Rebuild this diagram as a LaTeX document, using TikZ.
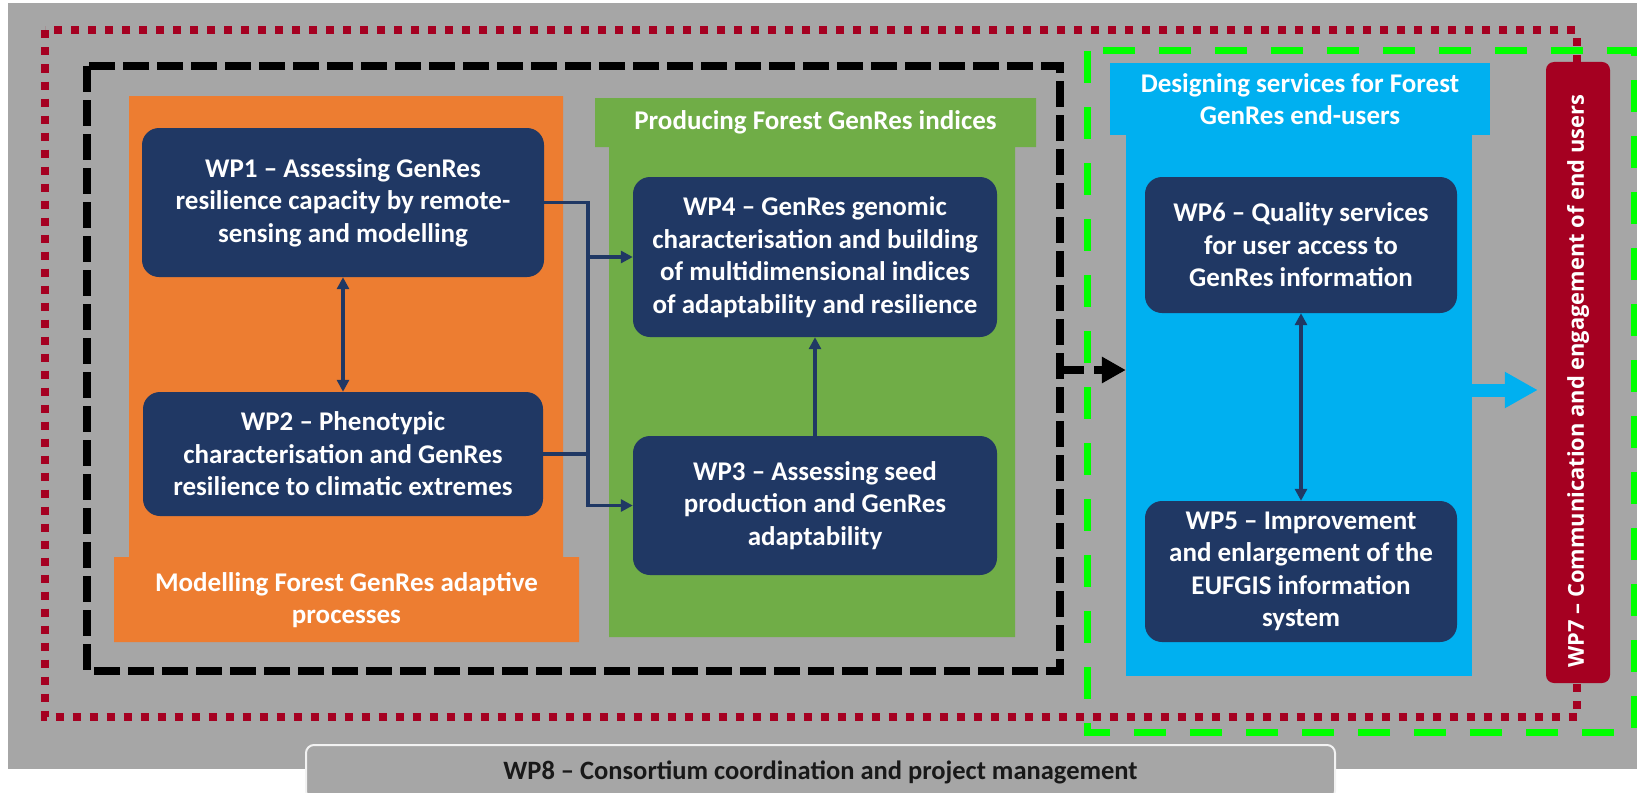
\documentclass[tikz,border=0pt]{standalone}
\usepackage{graphicx}
\usepackage{fontspec}
\setmainfont{Carlito}
\newfontfamily\outreachfamily{Open Sans}
\usetikzlibrary{arrows.meta}

\definecolor{panel gray}{HTML}{A6A6A6}
\definecolor{package navy}{HTML}{203864}
\definecolor{theme orange}{HTML}{ED7D31}
\definecolor{theme green}{HTML}{70AD47}
\definecolor{theme blue}{HTML}{00B0F0}
\definecolor{outreach red}{HTML}{A50021}
\definecolor{signal green}{HTML}{00FF00}

\newcommand{\packagefont}{\fontsize{27}{32.5}\selectfont\bfseries}
\newcommand{\outreachfont}{\fontsize{21.9}{26}\selectfont\outreachfamily\bfseries}

\tikzset{
    x={1pt},
    y={-1pt},
    consortium frame/.style={
        draw=outreach red,
        line width={8pt},
        dash pattern=on 8pt off 9pt,
    },
    modelling frame/.style={
        draw=black,
        line width={8pt},
        dash pattern=on 26pt off 8pt,
    },
    services frame/.style={
        draw=signal green,
        line width={7pt},
        dash pattern=on 32pt off 24pt,
    },
    theme block/.style={
        fill={#1},
        draw=none,
    },
    theme label/.style={
        text=white,
        font=\packagefont,
        align=center,
        inner sep=0pt,
    },
    work package/.style={
        fill=package navy,
        rounded corners=17pt,
        text=white,
        font=\packagefont,
        align=center,
        inner sep=0pt,
    },
    package link/.style={
        draw=package navy,
        line width={3.3pt},
    },
    package flow/.style={
        package link,
        -{Triangle[length=12pt,width=12pt]},
    },
    package exchange/.style={
        package link,
        {Triangle[length=12pt,width=12pt]}-{Triangle[length=12pt,width=12pt]},
    },
    results arrow/.style={
        draw=black,
        line width={8pt},
        dash pattern=on 24pt off 10pt,
        -{Triangle[length=24pt,width=25pt]},
    },
    handover arrow/.style={
        draw=theme blue,
        line width={13pt},
        -{Triangle[length=33pt,width=34pt]},
        shorten >=8pt,
    },
    outreach box/.style={
        fill=outreach red,
        rounded corners=8pt,
        text=white,
        font=\outreachfont,
        inner sep=0pt,
    },
    coordination box/.style={
        fill=panel gray,
        draw=white!85!panel gray,
        line width={2pt},
        rounded corners=8pt,
        text=black!90,
        font=\fontsize{26.5}{31}\selectfont\bfseries,
        inner sep=0pt,
    },
}

\begin{document}
\begin{tikzpicture}
\useasboundingbox (0,0) rectangle (1637,792);
% background
\fill[white] (0,0) rectangle (1637,792);
\fill[panel gray] (8,3) rectangle (1637,769);
% frames
\draw[consortium frame] (45,30.5) rectangle (1577,717);
\draw[modelling frame] (87,66) rectangle (1060,671);
\coordinate (modelling exit) at (1060,370);
% theme blocks
\path[theme block={theme orange}] (129,96) rectangle (563,560) (114,557) rectangle (579,642);
\path[theme block={theme green}] (595,98) rectangle (1036,147) (609,146) rectangle (1015,637);
\path[theme block={theme blue}] (1110,63) rectangle (1490,135);
\node[theme block={theme blue}, minimum width=346, minimum height=542, inner sep=0pt] (services) at (1299,405) {};
\draw[results arrow] (modelling exit) -- (services.west |- modelling exit);
\draw[services frame] (1087,51) rectangle (1634,732);
\node[theme label] (modelling label) at (346.5,600) {Modelling Forest GenRes adaptive\\processes};
\node[theme label] (producing label) at (815.5,122.5) {Producing Forest GenRes indices};
\node[theme label] (designing label) at (1300,99) {Designing services for Forest\\GenRes end-users};
% work packages
\node[work package, minimum width=402, minimum height=149] (wp1) at (343,202.5) {WP1 – Assessing GenRes\\resilience capacity by remote-\\sensing and modelling};
\node[work package, minimum width=400, minimum height=124] (wp2) at (343,454) {WP2 – Phenotypic\\characterisation and GenRes\\resilience to climatic extremes};
\node[work package, minimum width=364, minimum height=160] (wp4) at (815,257) {WP4 – GenRes genomic\\characterisation and building\\of multidimensional indices\\of adaptability and resilience};
\node[work package, minimum width=364, minimum height=139] (wp3) at (815,505.5) {WP3 – Assessing seed\\production and GenRes\\adaptability};
\node[work package, minimum width=312, minimum height=136] (wp6) at (1301,245) {WP6 – Quality services\\for user access to\\GenRes information};
\node[work package, minimum width=312, minimum height=141] (wp5) at (1301,571.5) {WP5 – Improvement\\and enlargement of the\\EUFGIS information\\system};
\node[outreach box, minimum width=64, minimum height=621] (wp7) at (1578,372.5) {\rotatebox{90}{WP7 – Communication and engagement of end users\hspace*{17pt}}};
\node[coordination box, minimum width=1029, minimum height=54] (wp8) at (820.5,772) {WP8 – Consortium coordination and project management};
% links
\coordinate (hub) at (588,0);
\draw[package flow] (wp1.east) -| (hub |- wp3.west) -- (wp3.west);
\draw[package flow] (hub |- wp4.west) -- (wp4.west);
\draw[package link] (wp2.east) -- (hub |- wp2.east);
\draw[package exchange] (wp1.south) -- (wp2.north);
\draw[package flow] (wp3.north) -- (wp4.south);
\draw[package exchange] (wp6.south) -- (wp5.north);
\coordinate (handover) at (1472,390);
\draw[handover arrow] (handover) -- (wp7.west |- handover);
\end{tikzpicture}
\end{document}
